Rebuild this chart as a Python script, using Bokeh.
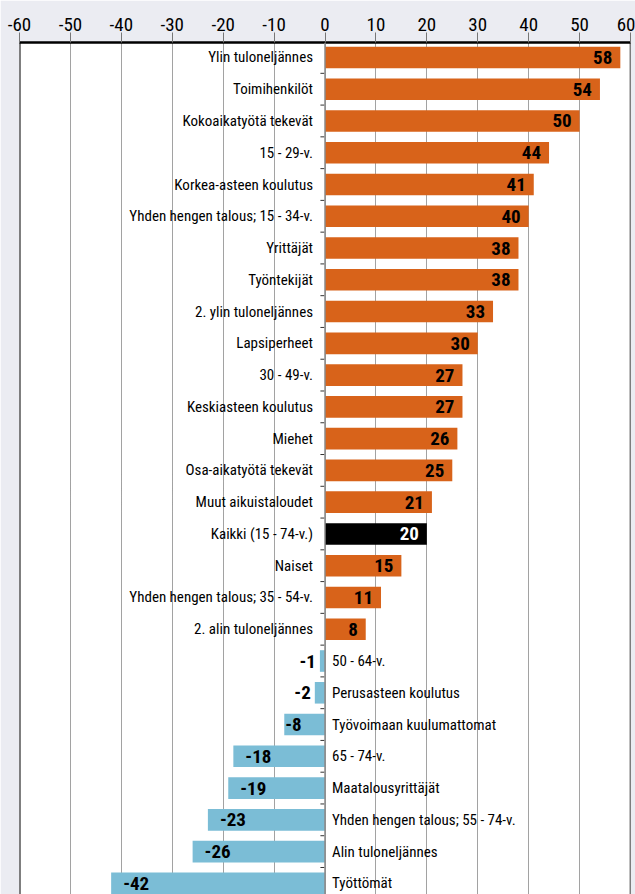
from bokeh.plotting import figure
from bokeh.models import ColumnDataSource, Range1d, FixedTicker, Span
from bokeh.core.properties import value
from bokeh.embed import file_html
from bokeh.resources import INLINE

categories = [
    "Ylin tuloneljännes", "Toimihenkilöt", "Kokoaikatyötä tekevät", "15 - 29-v.",
    "Korkea-asteen koulutus", "Yhden hengen talous; 15 - 34-v.", "Yrittäjät",
    "Työntekijät", "2. ylin tuloneljännes", "Lapsiperheet", "30 - 49-v.",
    "Keskiasteen koulutus", "Miehet", "Osa-aikatyötä tekevät", "Muut aikuistaloudet",
    "Kaikki (15 - 74-v.)", "Naiset", "Yhden hengen talous; 35 - 54-v.",
    "2. alin tuloneljännes", "50 - 64-v.", "Perusasteen koulutus",
    "Työvoimaan kuulumattomat", "65 - 74-v.", "Maatalousyrittäjät",
    "Yhden hengen talous; 55 - 74-v.", "Alin tuloneljännes", "Työttömät",
]
values = [58, 54, 50, 44, 41, 40, 38, 38, 33, 30, 27, 27, 26, 25, 21, 20, 15, 11, 8,
          -1, -2, -8, -18, -19, -23, -26, -42]
total_category = "Kaikki (15 - 74-v.)"
x_ticks = [-60, -50, -40, -30, -20, -10, 0, 10, 20, 30, 40, 50, 60]
x_tick_labels = ["-60", "-50", "-40", "-30", "-20", "-10", "0", "10", "20", "30", "40", "50", "60"]

ORANGE = "#D8631A"
BLUE = "#7BBDD6"
BLACK = "#000000"
BG = "#EBECF2"
FONT = "Roboto Condensed"

n = len(categories)
rows = list(range(n))
colors = [BLACK if c == total_category else (ORANGE if v >= 0 else BLUE)
          for c, v in zip(categories, values)]

src = ColumnDataSource(dict(y=rows, cat=categories, val=values, color=colors))

p = figure(width=635, height=894, output_backend="svg", toolbar_location=None,
           x_range=Range1d(-60, 60), y_range=Range1d(n - 1 + 0.35, -0.47),
           y_axis_location=None, x_axis_location="above",
           min_border_left=19, min_border_right=5, min_border_top=42, min_border_bottom=0)
p.background_fill_color = "white"
p.border_fill_color = BG
p.outline_line_color = None

ax = p.xaxis[0]
ax.ticker = FixedTicker(ticks=x_ticks)
ax.major_label_overrides = {t: s for t, s in zip(x_ticks, x_tick_labels)}
ax.axis_line_color = "black"
ax.axis_line_width = 2.5
ax.major_tick_out = 10
ax.major_tick_in = 0
ax.major_tick_line_color = "#777777"
ax.minor_tick_line_color = None
ax.major_label_standoff = 2
ax.major_label_text_font = FONT
ax.major_label_text_font_size = "19px"
ax.major_label_text_color = "black"

p.xgrid.grid_line_color = "#444444"
p.xgrid.grid_line_dash = "1 1"
p.xgrid.grid_line_width = 1
p.ygrid.visible = False

p.add_layout(Span(location=-60, dimension="height", line_color="black", line_width=2))
p.add_layout(Span(location=60, dimension="height", line_color="black", line_width=1.5))
p.add_layout(Span(location=0, dimension="height", line_color="#8a8a8a", line_width=1.5))

p.hbar(y="y", left=0, right="val", height=0.68, fill_color="color", line_color=None, source=src)

# row separator ticks on the zero line
sep = [i + 0.5 for i in range(n - 1)]
p.segment(x0=[-0.9] * len(sep), x1=[-0.1] * len(sep), y0=sep, y1=sep,
          line_color="#333333", line_width=1)

# category labels
pos_rows = [i for i in rows if values[i] >= 0]
neg_rows = [i for i in rows if values[i] < 0]
p.text(x=[0] * len(pos_rows), y=pos_rows, text=[categories[i] for i in pos_rows],
       x_offset=-12, text_align="right", text_baseline="middle",
       text_font=value(FONT), text_font_size="15px", text_color="black")
p.text(x=[0] * len(neg_rows), y=neg_rows, text=[categories[i] for i in neg_rows],
       x_offset=7, text_align="left", text_baseline="middle",
       text_font=value(FONT), text_font_size="15px", text_color="black")

# value labels
lx, ly, lt, la, lo, lc = [], [], [], [], [], []
for i, v in enumerate(values):
    lx.append(v)
    ly.append(i)
    lt.append(str(v))
    lc.append("white" if categories[i] == total_category else "black")
    if v >= 0:
        la.append("right"); lo.append(-8)
    elif v > -5:
        la.append("right"); lo.append(-4)
    elif v > -15:
        la.append("left"); lo.append(1)
    else:
        la.append("left"); lo.append(12)
vsrc = ColumnDataSource(dict(x=lx, y=ly, t=lt, a=la, o=lo, c=lc))
p.text(x="x", y="y", text="t", text_align="a", x_offset="o", text_color="c",
       text_baseline="middle", text_font=value(FONT), text_font_style="bold",
       text_font_size="19px", source=vsrc)

open("out.html", "w").write(file_html(p, INLINE))
